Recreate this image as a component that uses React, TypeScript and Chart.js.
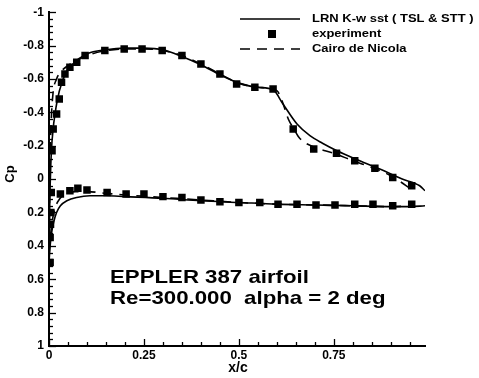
import React, { useEffect, useRef } from "react";
import { Chart, registerables } from "chart.js";

Chart.register(...registerables);

// ---- data ----
const expUpperX = [0.008, 0.011, 0.02, 0.027, 0.033, 0.042, 0.055, 0.073, 0.095, 0.147, 0.198, 0.245, 0.298, 0.35, 0.4, 0.45, 0.494, 0.542, 0.59, 0.643, 0.697, 0.757, 0.805, 0.858, 0.905, 0.955];
const expUpperCp = [-0.17, -0.3, -0.39, -0.48, -0.58, -0.63, -0.67, -0.7, -0.74, -0.77, -0.78, -0.78, -0.77, -0.74, -0.69, -0.63, -0.57, -0.55, -0.54, -0.3, -0.18, -0.155, -0.11, -0.065, -0.01, 0.04];
const expLowerX = [0.003, 0.003, 0.004, 0.005, 0.006, 0.03, 0.055, 0.076, 0.1, 0.153, 0.203, 0.25, 0.3, 0.35, 0.4, 0.45, 0.5, 0.555, 0.603, 0.653, 0.703, 0.753, 0.805, 0.853, 0.905, 0.955];
const expLowerCp = [0.5, 0.35, 0.27, 0.2, 0.08, 0.09, 0.07, 0.055, 0.065, 0.08, 0.09, 0.09, 0.105, 0.11, 0.125, 0.135, 0.14, 0.14, 0.15, 0.15, 0.155, 0.155, 0.15, 0.15, 0.16, 0.15];

const lrnUpperX = [0, 0.002, 0.005, 0.008, 0.02, 0.037, 0.063, 0.1, 0.15, 0.2, 0.25, 0.3, 0.35, 0.4, 0.45, 0.5, 0.55, 0.59, 0.616, 0.653, 0.687, 0.72, 0.758, 0.818, 0.871, 0.93, 0.976, 0.99];
const lrnUpperCp = [0.5, 0.15, -0.1, -0.23, -0.45, -0.6, -0.69, -0.75, -0.775, -0.785, -0.785, -0.775, -0.735, -0.685, -0.625, -0.575, -0.55, -0.535, -0.45, -0.33, -0.26, -0.215, -0.17, -0.11, -0.06, 0.0, 0.04, 0.07];
const lrnLowerX = [0, 0.003, 0.007, 0.012, 0.02, 0.03, 0.047, 0.073, 0.108, 0.15, 0.2, 0.3, 0.4, 0.5, 0.6, 0.7, 0.8, 0.9, 0.95, 0.99];
const lrnLowerCp = [0.5, 0.4, 0.32, 0.26, 0.2, 0.16, 0.13, 0.11, 0.1, 0.1, 0.105, 0.115, 0.13, 0.14, 0.15, 0.155, 0.16, 0.165, 0.165, 0.16];

const nicolaUpperX = [0, 0.002, 0.005, 0.01, 0.02, 0.03, 0.05, 0.08, 0.1, 0.15, 0.2, 0.25, 0.3, 0.35, 0.4, 0.45, 0.5, 0.55, 0.6, 0.615, 0.63, 0.645, 0.66, 0.7, 0.75, 0.8, 0.85, 0.9, 0.96];
const nicolaUpperCp = [0.45, 0.0, -0.3, -0.5, -0.6, -0.64, -0.68, -0.72, -0.74, -0.77, -0.78, -0.78, -0.77, -0.74, -0.69, -0.63, -0.575, -0.55, -0.53, -0.46, -0.36, -0.3, -0.245, -0.19, -0.155, -0.11, -0.07, -0.02, 0.07];
const nicolaLowerX = [0, 0.004, 0.008, 0.014, 0.022, 0.035, 0.05, 0.07, 0.1, 0.15, 0.2, 0.3, 0.4, 0.5, 0.6, 0.7, 0.8, 0.9, 0.96];
const nicolaLowerCp = [0.45, 0.34, 0.26, 0.19, 0.14, 0.1, 0.085, 0.075, 0.075, 0.085, 0.095, 0.11, 0.125, 0.14, 0.15, 0.155, 0.16, 0.165, 0.16];

const xTicks = [0, 0.25, 0.5, 0.75];
const yTicks = [-1, -0.8, -0.6, -0.4, -0.2, 0, 0.2, 0.4, 0.6, 0.8, 1];

const legendLabels = ["LRN K-w sst ( TSL & STT )", "experiment", "Cairo de Nicola"];
const noteLines = ["EPPLER 387 airfoil", "Re=300.000  alpha = 2 deg"];
const xTitle = "x/c";
const yTitle = "Cp";

const pts = (xs: number[], ys: number[]) => xs.map((x, i) => ({ x, y: ys[i] }));

const FONT = "'Liberation Sans', Arial, sans-serif";

const decorPlugin = {
  id: "decor",
  afterDraw(chart: any) {
    const ctx = chart.ctx;
    const xs = chart.scales.x;
    const ys = chart.scales.y;
    const ca = chart.chartArea;
    ctx.save();
    ctx.strokeStyle = "#000";
    ctx.lineWidth = 1.3;
    // x ticks (inward)
    for (let i = 0; i * 0.05 <= 0.99 + 1e-9; i++) {
      const v = i * 0.05;
      const major = i % 5 === 0;
      const px = Math.round(xs.getPixelForValue(v)) + 0.5;
      ctx.beginPath();
      ctx.moveTo(px, ca.bottom);
      ctx.lineTo(px, ca.bottom - (major ? 7 : 4));
      ctx.stroke();
    }
    // y ticks (inward)
    for (let i = 0; i <= 50; i++) {
      const v = -1 + i * 0.04;
      const major = i % 5 === 0;
      const py = Math.round(ys.getPixelForValue(v)) + 0.5;
      ctx.beginPath();
      ctx.moveTo(ca.left, py);
      ctx.lineTo(ca.left + (major ? 7 : 4), py);
      ctx.stroke();
    }
    // legend
    ctx.fillStyle = "#000";
    ctx.lineWidth = 1.6;
    ctx.beginPath();
    ctx.moveTo(240, 19);
    ctx.lineTo(300, 19);
    ctx.stroke();
    ctx.fillRect(268, 30, 8, 8);
    ctx.setLineDash([10, 7]);
    ctx.beginPath();
    ctx.moveTo(240, 49);
    ctx.lineTo(300, 49);
    ctx.stroke();
    ctx.setLineDash([]);
    ctx.font = `bold 11px ${FONT}`;
    ctx.textBaseline = "middle";
    ctx.textAlign = "left";
    const ly = [19, 34, 49];
    legendLabels.forEach((t, i) => {
      ctx.save();
      ctx.translate(312, ly[i]);
      ctx.scale(1.18, 1);
      ctx.fillText(t, 0, 0);
      ctx.restore();
    });
    // annotation
    ctx.font = `bold 19px ${FONT}`;
    ctx.textBaseline = "alphabetic";
    const ny = [283, 304];
    noteLines.forEach((t, i) => {
      ctx.save();
      ctx.translate(110, ny[i]);
      ctx.scale(1.17, 1);
      ctx.fillText(t, 0, 0);
      ctx.restore();
    });
    // axis titles
    ctx.font = `bold 14px ${FONT}`;
    ctx.textAlign = "center";
    ctx.textBaseline = "middle";
    ctx.fillText(xTitle, 238, 368);
    ctx.font = `bold 13px ${FONT}`;
    ctx.save();
    ctx.translate(10, 174);
    ctx.rotate(-Math.PI / 2);
    ctx.fillText(yTitle, 0, 0);
    ctx.restore();
    ctx.restore();
  },
};

export default function App() {
  const ref = useRef<HTMLCanvasElement>(null);
  useEffect(() => {
    document.body.style.margin = "0";
    const canvas = ref.current!;
    const lineBase = { showLine: true, borderColor: "#000", borderWidth: 1.6, pointRadius: 0, cubicInterpolationMode: "monotone" as const };
    const markBase = { showLine: false, pointStyle: "rect" as const, pointRadius: 5.3, backgroundColor: "#000", borderColor: "#000", borderWidth: 0, order: 1 };
    const chart = new Chart(canvas, {
      type: "scatter",
      data: {
        datasets: [
          { label: "LRN upper", data: pts(lrnUpperX, lrnUpperCp), ...lineBase, order: 2 },
          { label: "LRN lower", data: pts(lrnLowerX, lrnLowerCp), ...lineBase, order: 2 },
          { label: "Nicola upper", data: pts(nicolaUpperX, nicolaUpperCp), ...lineBase, borderDash: [10, 7], order: 3 },
          { label: "Nicola lower", data: pts(nicolaLowerX, nicolaLowerCp), ...lineBase, borderDash: [10, 7], order: 3 },
          { label: "exp upper", data: pts(expUpperX, expUpperCp), ...markBase },
          { label: "exp lower", data: pts(expLowerX, expLowerCp), ...markBase },
        ],
      },
      options: {
        responsive: false,
        animation: false,
        layout: { padding: { top: 10, right: 54, left: 0, bottom: 0 } },
        plugins: { legend: { display: false }, tooltip: { enabled: false } },
        scales: {
          x: {
            type: "linear",
            min: 0,
            max: 0.99,
            afterBuildTicks: (s: any) => { s.ticks = xTicks.map((v) => ({ value: v })); },
            afterFit: (s: any) => { s.height = 32; },
            grid: { display: false, drawTicks: false },
            border: { display: true, color: "#000", width: 2 },
            ticks: {
              color: "#000",
              padding: 2,
              maxRotation: 0,
              autoSkip: false,
              font: { family: FONT, size: 12, weight: "bold" },
              callback: (v: any) => String(v),
            },
          },
          y: {
            type: "linear",
            reverse: true,
            min: -1,
            max: 1,
            afterBuildTicks: (s: any) => { s.ticks = yTicks.map((v) => ({ value: v })); },
            afterFit: (s: any) => { s.width = 49; },
            grid: { display: false, drawTicks: false },
            border: { display: true, color: "#000", width: 2 },
            ticks: {
              color: "#000",
              padding: 5,
              autoSkip: false,
              font: { family: FONT, size: 12, weight: "bold" },
              callback: (v: any) => String(Math.round(v * 10) / 10),
            },
          },
        },
      },
      plugins: [decorPlugin],
    });
    return () => chart.destroy();
  }, []);
  return <canvas ref={ref} width={479} height={378} style={{ display: "block" }} />;
}
